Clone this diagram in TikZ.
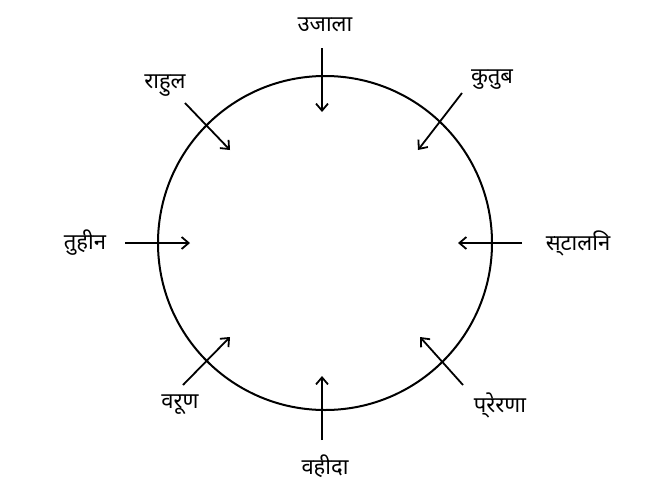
\documentclass[tikz,border=0pt]{standalone}
\usepackage{fontspec}
\newfontfamily\hindi{Noto Sans}
\usetikzlibrary{arrows.meta}
\tikzset{person/.style={font=\hindi\fontsize{22}{24}\selectfont},
  pointer/.style={-{Straight Barb[length=7pt,width=12pt]},line width=1.8pt}}
\begin{document}
\begin{tikzpicture}[x=1pt,y=-1pt]
    \useasboundingbox (0,0) rectangle (658,493);
    \node[draw,circle,line width=2pt,minimum size=334pt] (c) at (325,243) {};

    \node[person] (n1) at (325,25) {उजाला};
    \node[person] (n2) at (492,80) {कुतुब};
    \node[person] (n3) at (578,243) {स्टालिन};
    \node[person] (n4) at (500,405) {प्रेरणा};
    \node[person] (n5) at (325,466) {वहीदा};
    \node[person] (n6) at (180,405) {वरूण};
    \node[person] (n7) at (85,243) {तुहीन};
    \node[person] (n8) at (165,86) {राहुल};

    \coordinate (t1) at (322,112);
    \coordinate (t2) at (418,150);
    \coordinate (t3) at (458,243);
    \coordinate (t4) at (420,337);
    \coordinate (t5) at (322,376);
    \coordinate (t6) at (230,337);
    \coordinate (t7) at (190,243);
    \coordinate (t8) at (230,150);

    \draw[pointer] (322,48) -- (t1);
    \draw[pointer] (462,93) -- (t2);
    \draw[pointer] (522,243) -- (t3);
    \draw[pointer] (463,385) -- (t4);
    \draw[pointer] (322,440) -- (t5);
    \draw[pointer] (183,385) -- (t6);
    \draw[pointer] (125,243) -- (t7);
    \draw[pointer] (185,103) -- (t8);
\end{tikzpicture}
\end{document}
